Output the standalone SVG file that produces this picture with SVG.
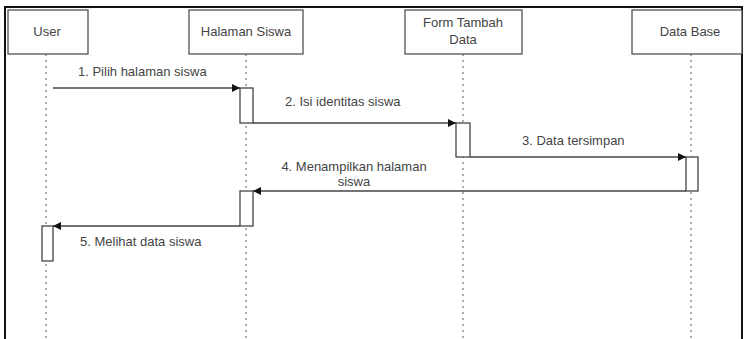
<svg xmlns="http://www.w3.org/2000/svg" width="746" height="339" viewBox="0 0 746 339">
<style>
.bg{fill:#fff}
.head{fill:#fff;stroke:#444;stroke-width:1.2}
.life{stroke:#777;stroke-width:1.2;stroke-dasharray:2 4;fill:none}
.act{fill:#fff;stroke:#444;stroke-width:1.3}
.msg{stroke:#444;stroke-width:1.3;fill:none}
text{font-family:"Liberation Sans",Arial,sans-serif;font-size:13px;fill:#444}
.c{text-anchor:middle}
</style>
<defs>
<marker id="ah" viewBox="0 0 10 10" refX="10" refY="5" markerWidth="8" markerHeight="8" markerUnits="userSpaceOnUse" orient="auto">
<path d="M0,0 L10,5 L0,10 Z" fill="#111"/>
</marker>
</defs>
<rect class="bg" x="0" y="0" width="746" height="339"/>
<path d="M5,339 V7 H742 V339" fill="none" stroke="#111" stroke-width="2"/>

<g id="lifelines">
<line class="life" x1="46" y1="54" x2="46" y2="339"/>
<line class="life" x1="246" y1="54" x2="246" y2="339"/>
<line class="life" x1="463" y1="54" x2="463" y2="339"/>
<line class="life" x1="691" y1="54" x2="691" y2="339"/>
</g>

<g id="user">
<rect class="head" x="8" y="10" width="80" height="44"/>
<text class="c" x="47" y="36">User</text>
</g>
<g id="halaman-siswa">
<rect class="head" x="189" y="10" width="114" height="44"/>
<text class="c" x="246" y="36">Halaman Siswa</text>
</g>
<g id="form-tambah-data">
<rect class="head" x="405" y="10" width="117" height="44"/>
<text class="c" x="463" y="27">Form Tambah</text>
<text class="c" x="463" y="44">Data</text>
</g>
<g id="data-base">
<rect class="head" x="632" y="10" width="110" height="44"/>
<text class="c" x="690" y="36">Data Base</text>
</g>

<g id="activations">
<rect class="act" x="240" y="88" width="13" height="35"/>
<rect class="act" x="456" y="123" width="14" height="34"/>
<rect class="act" x="686" y="157" width="12" height="34"/>
<rect class="act" x="240" y="191" width="13" height="35"/>
<rect class="act" x="42" y="226" width="11" height="35"/>
</g>

<g id="connectors">
<line class="msg" x1="53" y1="88" x2="240" y2="88" marker-end="url(#ah)"/>
<line class="msg" x1="253" y1="123" x2="456" y2="123" marker-end="url(#ah)"/>
<line class="msg" x1="470" y1="157" x2="686" y2="157" marker-end="url(#ah)"/>
<line class="msg" x1="686" y1="191" x2="253" y2="191" marker-end="url(#ah)"/>
<line class="msg" x1="240" y1="226" x2="53" y2="226" marker-end="url(#ah)"/>
</g>

<g id="labels">
<text x="78" y="76">1. Pilih halaman siswa</text>
<text x="285" y="106">2. Isi identitas siswa</text>
<text x="522" y="145">3. Data tersimpan</text>
<text class="c" x="354" y="171">4. Menampilkan halaman</text>
<text class="c" x="354" y="186">siswa</text>
<text x="80" y="246">5. Melihat data siswa</text>
</g>
</svg>
